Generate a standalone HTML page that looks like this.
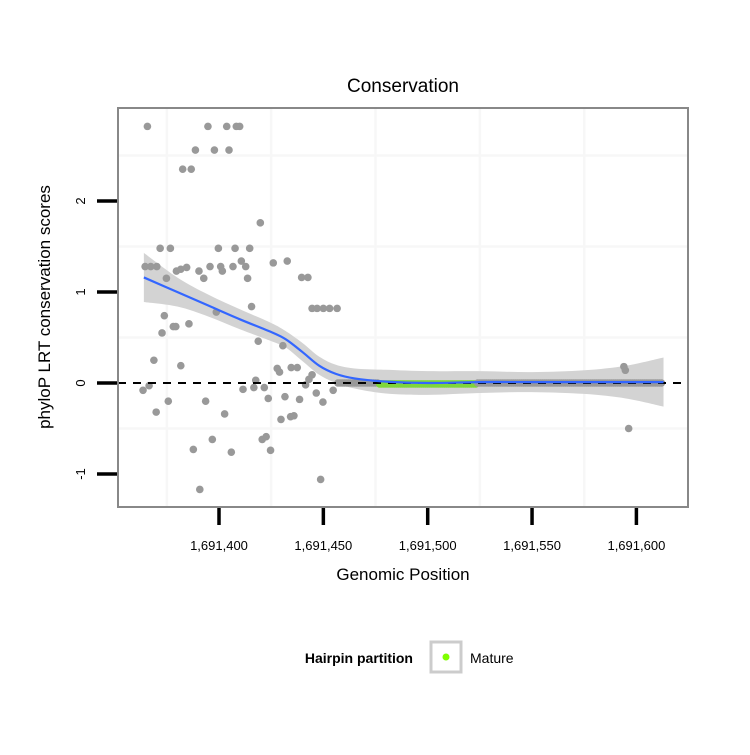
<!DOCTYPE html>
<html><head><meta charset="utf-8"><style>
body{margin:0;background:#fff;}
svg text{font-family:"Liberation Sans",sans-serif;}
</style></head><body>
<svg id="chart" width="750" height="750" xmlns="http://www.w3.org/2000/svg">
<rect width="750" height="750" fill="#fff"/>
<text x="403" y="92" font-size="19" text-anchor="middle">Conservation</text>
<g id="grid"></g>
<g id="band"></g>
<g id="pts"></g>
<g id="zeroline"></g>
<g id="smooth"></g>
<rect x="118" y="108" width="570" height="399" fill="none" stroke="#888" stroke-width="2"/>
<g id="axes"></g>
<text x="403" y="580" font-size="17" text-anchor="middle">Genomic Position</text>
<text transform="translate(50,307) rotate(-90)" font-size="17" text-anchor="middle">phyloP LRT conservation scores</text>
<g>
<text x="413" y="663" font-size="14" font-weight="bold" text-anchor="end">Hairpin partition</text>
<rect x="431" y="642" width="30" height="30" fill="#fff" stroke="#ccc" stroke-width="3"/>
<circle cx="446" cy="657" r="3.5" fill="#7fff00"/>
<text x="470" y="663" font-size="14">Mature</text>
</g>
</svg>
<script>
const xTicks=[1691400,1691450,1691500,1691550,1691600];
const xTickLabels=["1,691,400","1,691,450","1,691,500","1,691,550","1,691,600"];
const yTicks=[-1,0,1,2];
const yTickLabels=["-1","0","1","2"];
const xGrid=[1691375,1691425,1691475,1691525,1691575];
const yGrid=[-0.5,0.5,1.5,2.5];
const ptX=[1691365.7,1691394.7,1691403.7,1691408.3,1691409.9,1691388.7,1691397.8,1691404.8,1691382.6,1691386.7,1691419.8,1691371.8,1691376.7,1691399.7,1691407.7,1691414.7,1691364.6,1691367.3,1691370.2,1691379.6,1691381.7,1691384.5,1691390.4,1691395.7,1691400.8,1691401.6,1691406.7,1691410.7,1691412.8,1691392.7,1691374.8,1691413.7,1691426,1691432.7,1691439.6,1691442.6,1691415.6,1691444.6,1691447,1691450,1691453,1691456.6,1691373.8,1691378.1,1691379.3,1691385.6,1691372.7,1691398.7,1691418.8,1691430.6,1691368.8,1691381.7,1691427.9,1691429,1691434.6,1691437.5,1691444.6,1691443.1,1691441.5,1691363.6,1691366.5,1691417.6,1691411.5,1691416.7,1691421.7,1691375.7,1691369.9,1691393.6,1691402.7,1691423.6,1691431.6,1691438.6,1691446.6,1691449.8,1691454.7,1691429.7,1691434.3,1691435.9,1691396.8,1691387.7,1691405.9,1691420.7,1691422.6,1691424.7,1691390.8,1691448.7,1691594.7,1691594,1691596.3];
const ptY=[2.82,2.82,2.82,2.82,2.82,2.56,2.56,2.56,2.35,2.35,1.76,1.48,1.48,1.48,1.48,1.48,1.28,1.28,1.28,1.23,1.25,1.27,1.23,1.28,1.28,1.23,1.28,1.34,1.28,1.15,1.15,1.15,1.32,1.34,1.16,1.16,0.84,0.82,0.82,0.82,0.82,0.82,0.74,0.62,0.62,0.65,0.55,0.78,0.46,0.41,0.25,0.19,0.16,0.12,0.17,0.17,0.09,0.04,-0.02,-0.08,-0.03,0.03,-0.07,-0.05,-0.05,-0.2,-0.32,-0.2,-0.34,-0.17,-0.15,-0.18,-0.11,-0.21,-0.08,-0.4,-0.37,-0.36,-0.62,-0.73,-0.76,-0.62,-0.59,-0.74,-1.17,-1.06,0.14,0.18,-0.5];
const flatStart=1691457, flatEnd=1691612;
const matureStart=1691477, matureEnd=1691523;
const smX=[1691364,1691380,1691395,1691410,1691425,1691432,1691440,1691448,1691456,1691465,1691480,1691500,1691525,1691550,1691575,1691595,1691613];
const smY=[1.16,1.0,0.85,0.70,0.56,0.48,0.34,0.19,0.10,0.05,0.015,0.0,0.01,0.01,0.01,0.01,0.01];
const smSE=[0.27,0.16,0.12,0.11,0.10,0.09,0.10,0.10,0.10,0.11,0.13,0.13,0.12,0.11,0.13,0.18,0.27];

const X=v=>219+(v-1691400)*2.087;
const Y=v=>383-v*91;
const NS="http://www.w3.org/2000/svg";
function mk(tag,parent,attrs){const e=document.createElementNS(NS,tag);for(const k in attrs)e.setAttribute(k,attrs[k]);document.getElementById(parent).appendChild(e);return e;}
function spline(pts){let d='M'+pts[0][0]+','+pts[0][1];
for(let i=0;i<pts.length-1;i++){const p0=pts[Math.max(0,i-1)],p1=pts[i],p2=pts[i+1],p3=pts[Math.min(pts.length-1,i+2)];
d+=` C${p1[0]+(p2[0]-p0[0])/6},${p1[1]+(p2[1]-p0[1])/6} ${p2[0]-(p3[0]-p1[0])/6},${p2[1]-(p3[1]-p1[1])/6} ${p2[0]},${p2[1]}`;}
return d;}

xGrid.forEach(v=>{const e=mk('line','grid',{x1:X(v),x2:X(v),y1:108,y2:507,stroke:'#f7f7f7','stroke-width':2.5});

});
yGrid.forEach(v=>{const e=mk('line','grid',{x1:118,x2:688,y1:Y(v),y2:Y(v),stroke:'#f7f7f7','stroke-width':2.5});

});

const upP=smX.map((x,i)=>[X(x),Y(smY[i]+smSE[i])]);
const dnP=smX.map((x,i)=>[X(x),Y(smY[i]-smSE[i])]).reverse();
let dBand=spline(upP)+' L'+dnP[0][0]+','+dnP[0][1]+spline(dnP).replace(/^M[^ ]+/,'')+' Z';
const band=mk('path','band',{d:dBand,fill:'#d3d3d3'});



ptX.forEach((x,i)=>{const c=mk('circle','pts',{cx:X(x),cy:Y(ptY[i]),r:3.8,fill:'#999'});

});
for(let v=flatStart;v<=flatEnd;v++){const inM=v>=matureStart&&v<=matureEnd;
const c=mk('circle','pts',{cx:X(v),cy:Y(inM?-0.01:0),r:3.8,fill:inM?'#7fd63a':'#999'});

}

const zl=mk('line','zeroline',{x1:118,x2:688,y1:Y(0),y2:Y(0),stroke:'#000','stroke-width':2,'stroke-dasharray':'8,7'});



const sm=mk('path','smooth',{d:spline(smX.map((x,i)=>[X(x),Y(smY[i])])),fill:'none',stroke:'#3366ff','stroke-width':2.2});



xTicks.forEach((v,i)=>{const t=mk('line','axes',{x1:X(v),x2:X(v),y1:508,y2:525,stroke:'#000','stroke-width':3.5});


const l=mk('text','axes',{x:X(v),y:550,'font-size':13,'text-anchor':'middle'});l.textContent=xTickLabels[i];

});
yTicks.forEach((v,i)=>{const t=mk('line','axes',{x1:97,x2:117,y1:Y(v),y2:Y(v),stroke:'#000','stroke-width':3.5});


const l=mk('text','axes',{transform:`translate(85,${Y(v)}) rotate(-90)`,'font-size':13,'text-anchor':'middle'});l.textContent=yTickLabels[i];

});
</script>
</body></html>
